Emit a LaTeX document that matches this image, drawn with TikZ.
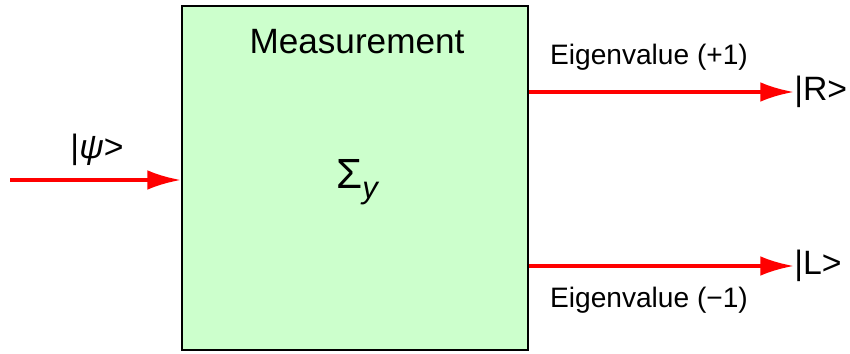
\documentclass[tikz,border=0pt]{standalone}
\usepackage{fontspec}
\setmainfont{Liberation Sans}
\usetikzlibrary{arrows.meta}
\usetikzlibrary{calc}
\usepackage{xcolor}

\definecolor{boxgreen}{HTML}{CCFFCC}

\begin{document}
\begin{tikzpicture}[x=0.025cm,y=0.025cm,
	beam/.style={draw=red,line width=2.8pt,-{Latex[length=24pt,width=14pt]}}]
			
			% page size
			\useasboundingbox (0,0) rectangle (850,354);
			
			% measuring box
			\node[draw=black,line width=1.4pt,fill=boxgreen,minimum width=346*0.025cm,
			      minimum height=344*0.025cm,inner sep=0pt] (box) at (355,176) {};
			\node[font=\fontsize{25}{28}\selectfont] (title) at (357,312) {Measurement};
			\node[font=\fontsize{30}{34}\selectfont] (op) at (357,172)
			     {Σ\raisebox{-7pt}{\fontsize{22}{24}\selectfont\itshape y}};
			
			% input state
			\coordinate (in) at (10,174);
			\node[font=\fontsize{24}{28}\selectfont] (psi) at (97,204) {|\textit{ψ}>};
			\draw[beam] (in) -- (box.west |- in);
			
			% output states
			\node[anchor=west,inner sep=0pt,font=\fontsize{24}{28}\selectfont] (R) at (794,262) {|R>};
			\node[anchor=west,inner sep=0pt,font=\fontsize{24}{28}\selectfont] (L) at (794,88) {|L>};
			\draw[beam] (box.east |- R.west) -- (R.west);
			\draw[beam] (box.east |- L.west) -- (L.west);
			
			% eigenvalue labels
			\node[font=\fontsize{20}{24}\selectfont] (ev1) at (649,297) {Eigenvalue (+1)};
			\node[font=\fontsize{20}{24}\selectfont] (ev2) at (649,54) {Eigenvalue (−1)};
			
		\end{tikzpicture}
\end{document}
